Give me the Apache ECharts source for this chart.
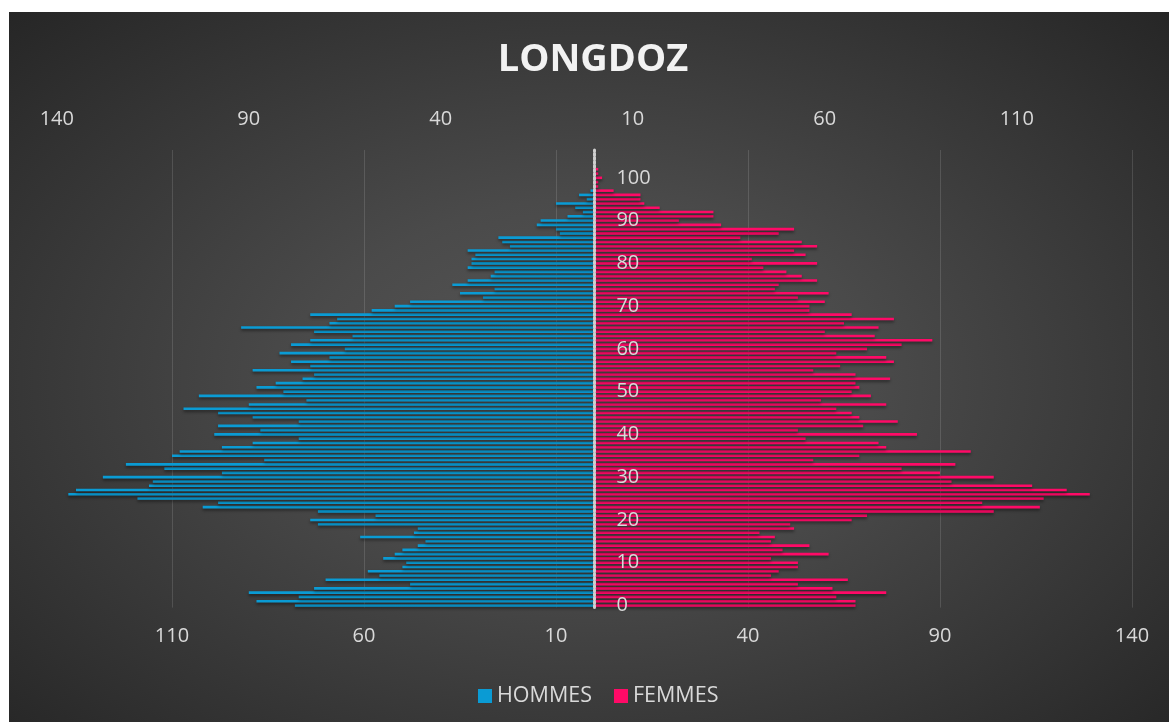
<!DOCTYPE html>
<html>
<head>
<meta charset="utf-8">
<script src="https://cdn.jsdelivr.net/npm/echarts@6/dist/echarts.min.js"></script>
<style>
html,body{margin:0;padding:0;background:#fff;width:1169px;height:722px;overflow:hidden;}
#bg{position:absolute;left:9px;top:12px;width:1160px;height:710px;
background:radial-gradient(ellipse farthest-corner at 50% 52%, #575757 0%, #4a4a4a 35%, #262626 100%);}
#chart{position:absolute;left:9px;top:12px;width:1160px;height:710px;}
</style>
</head>
<body>
<div id="bg"></div>
<div id="chart"></div>
<script>
// ages 0..106
const ages = [];
for (let a = 0; a <= 106; a++) ages.push(String(a));

const hommes = [
78,88,77,90,73,48,70,56,59,50,
49,55,52,50,46,44,61,47,46,72,
74,57,72,102,98,119,137,135,116,115,
128,97,112,122,86,110,108,97,89,77,
99,87,98,77,89,98,107,90,75,103,
81,88,83,76,73,89,74,79,69,82,
65,79,74,63,73,92,69,67,74,58,
52,48,29,35,26,37,33,27,26,33,
32,32,31,33,22,24,25,9,10,15,
14,7,3,5,10,2,4,1,0,0,
0,0,0,0,0,0,0
];

const femmes = [
68,68,63,76,62,53,66,46,48,53,
53,46,61,49,56,46,47,43,52,51,
67,71,104,116,101,117,129,123,114,93,
104,90,80,94,57,69,98,76,74,55,
84,53,70,79,69,67,63,76,59,72,
67,69,68,77,68,57,64,78,76,63,
71,80,88,73,60,74,65,78,67,56,
56,60,53,61,47,48,58,54,50,44,
58,41,55,52,58,54,38,48,52,33,
22,31,31,17,13,12,12,5,1,1,
2,1,1,0,0,0,0
];

const seriesNames = ['HOMMES', 'FEMMES'];
const colors = ['#0A9BD4', '#FF0A67'];
const titleText = 'LONGDOZ';

const txt = '#d9d9d9';
const font = '"Open Sans", "Noto Sans", sans-serif';
const absFmt = v => String(Math.abs(v));

const chart = echarts.init(document.getElementById('chart'), null, {renderer: 'canvas'});
chart.setOption({
  backgroundColor: 'transparent',
  animation: false,
  textStyle: {fontFamily: font},
  title: {
    text: titleText,
    left: 579, top: 24, textAlign: 'center',
    textStyle: {color: '#f2f2f2', fontSize: 38, fontWeight: 'bold', fontFamily: font}
  },
  legend: {
    data: seriesNames,
    left: 464, top: 668,
    itemWidth: 14, itemHeight: 14, itemGap: 22,
    icon: 'rect',
    textStyle: {color: txt, fontSize: 21.5, fontFamily: font}
  },
  grid: {left: 47.8, right: 37, top: 138, bottom: 114.4, containLabel: false},
  xAxis: [
    {
      type: 'value', position: 'top', min: -140, max: 140, interval: 50,
      axisLine: {show: false}, axisTick: {show: false},
      splitLine: {show: false},
      axisLabel: {color: txt, fontSize: 20, margin: 21, formatter: absFmt, showMaxLabel: false}
    },
    {
      type: 'value', position: 'bottom', inverse: true, min: -140, max: 140, interval: 50,
      axisLine: {show: false}, axisTick: {show: false},
      splitLine: {show: true, showMaxLine: false, lineStyle: {color: 'rgba(255,255,255,0.13)', width: 1}},
      axisLabel: {color: txt, fontSize: 20, margin: 19, formatter: absFmt, showMaxLabel: false}
    }
  ],
  yAxis: {
    type: 'category', data: ages, z: 10, position: 'left', offset: -537.6,
    axisLine: {show: true, onZero: false, lineStyle: {color: '#cfcfcf', width: 3, type: [2, 2]}},
    axisTick: {show: false},
    splitLine: {show: false},
    axisLabel: {inside: true, interval: 9, margin: 22, color: txt, fontSize: 20, align: 'left'}
  },
  series: [
    {
      name: seriesNames[0], type: 'bar', xAxisIndex: 0,
      data: hommes.map(v => -v),
      barWidth: 2.6, barGap: '-100%',
      itemStyle: {color: colors[0], shadowColor: 'rgba(0,0,0,0.45)', shadowBlur: 3, shadowOffsetY: 2}
    },
    {
      name: seriesNames[1], type: 'bar', xAxisIndex: 0,
      data: femmes,
      barWidth: 2.6, barGap: '-100%',
      itemStyle: {color: colors[1], shadowColor: 'rgba(0,0,0,0.45)', shadowBlur: 3, shadowOffsetY: 2}
    }
  ]
});
</script>
</body>
</html>
